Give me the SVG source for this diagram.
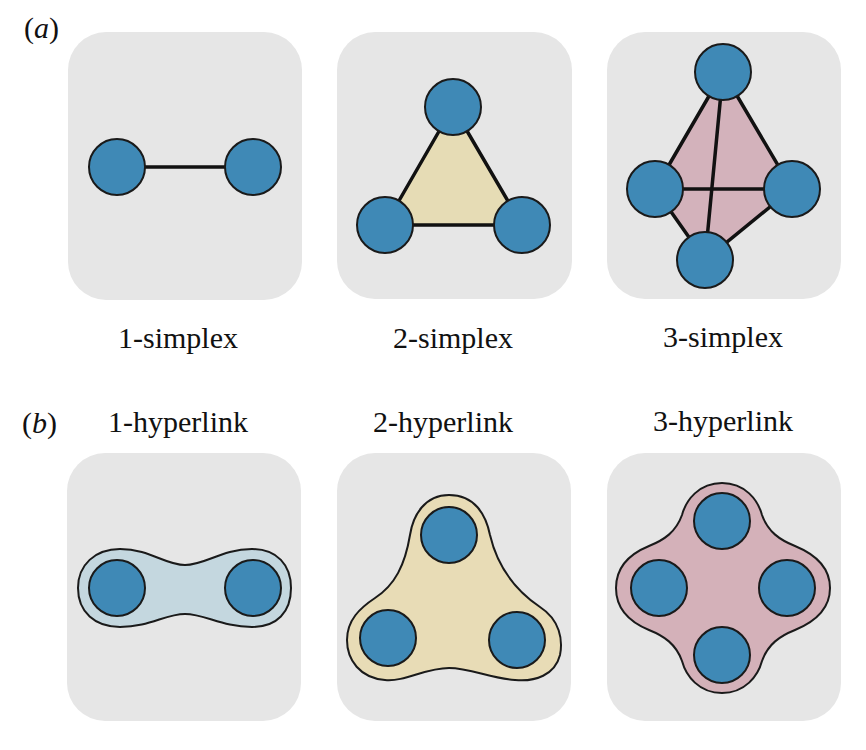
<svg xmlns="http://www.w3.org/2000/svg" width="866" height="750" viewBox="0 0 866 750">
<style>
.panel{fill:#e6e6e6}
.node{fill:#3f89b6;stroke:#1a1a1a;stroke-width:2}
.edge{stroke:#111;stroke-width:3.5;stroke-linecap:round}
.blob{stroke:#1a1a1a;stroke-width:2}
text{font-family:"Liberation Serif","Times New Roman",serif;font-size:30px;fill:#111}
.lab{text-anchor:middle}
</style>
<rect width="866" height="750" fill="#ffffff"/>
<text x="24" y="38"><tspan>(</tspan><tspan font-style="italic">a</tspan><tspan>)</tspan></text>
<text x="22" y="433"><tspan>(</tspan><tspan font-style="italic">b</tspan><tspan>)</tspan></text>

<g id="panels">
<rect class="panel" x="68" y="32" width="234" height="268" rx="38"/>
<rect class="panel" x="337" y="32" width="235" height="267" rx="38"/>
<rect class="panel" x="607" y="32" width="234" height="267" rx="38"/>
<rect class="panel" x="67" y="453" width="234" height="268" rx="38"/>
<rect class="panel" x="337" y="453" width="234" height="268" rx="38"/>
<rect class="panel" x="607" y="453" width="234" height="268" rx="38"/>
</g>

<g id="faces">
<polygon points="453,107 522,225 385,225" fill="#e6dcb5"/>
<polygon points="723,72 792,189 705,260 655,189" fill="#d3b2bb"/>
</g>

<g id="connectors">
<line class="edge" x1="117" y1="167" x2="253" y2="167"/>
<line class="edge" x1="453" y1="107" x2="522" y2="225"/>
<line class="edge" x1="453" y1="107" x2="385" y2="225"/>
<line class="edge" x1="385" y1="225" x2="522" y2="225"/>
<line class="edge" x1="723" y1="72" x2="655" y2="189"/>
<line class="edge" x1="723" y1="72" x2="792" y2="189"/>
<line class="edge" x1="723" y1="72" x2="705" y2="260"/>
<line class="edge" x1="655" y1="189" x2="792" y2="189"/>
<line class="edge" x1="655" y1="189" x2="705" y2="260"/>
<line class="edge" x1="792" y1="189" x2="705" y2="260"/>
</g>

<g id="hyperlink-1">
<path class="blob" fill="#c4d7df" d="M 78 588 C 78 565, 95 549, 120 549 C 150 549, 165 565, 185 565 C 205 565, 222 549, 252 549 C 277 549, 291 565, 291 588 C 291 612, 277 627, 252 627 C 222 627, 205 614, 185 614 C 165 614, 150 627, 120 627 C 95 627, 78 612, 78 588 Z"/>
</g>
<g id="hyperlink-2">
<path class="blob" fill="#e8dcb6" d="M 449 495 C 475 495, 486 515, 490 535 C 497 565, 515 590, 540 607 C 560 620, 563 640, 560 655 C 555 675, 535 682, 515 680 C 490 678, 470 668, 449 668 C 425 668, 405 682, 385 680 C 360 678, 347 660, 347 640 C 347 620, 360 608, 375 598 C 395 585, 405 565, 410 535 C 413 515, 425 495, 449 495 Z"/>
</g>
<g id="hyperlink-3">
<path class="blob" fill="#d4b1b9" d="M 722 483 C 745 483, 758 500, 762 515 C 768 532, 780 540, 795 546 C 812 553, 830 565, 830 588 C 830 611, 812 623, 795 630 C 780 636, 768 644, 762 661 C 758 676, 745 693, 722 693 C 699 693, 686 676, 682 661 C 676 644, 664 636, 649 630 C 632 623, 616 611, 616 588 C 616 565, 632 553, 649 546 C 664 540, 676 532, 682 515 C 686 500, 699 483, 722 483 Z"/>
</g>

<g id="nodes">
<circle id="a1-n1" class="node" cx="117" cy="167" r="28"/>
<circle id="a1-n2" class="node" cx="253" cy="167" r="28"/>
<circle id="a2-n1" class="node" cx="453" cy="107" r="28"/>
<circle id="a2-n2" class="node" cx="385" cy="225" r="28"/>
<circle id="a2-n3" class="node" cx="522" cy="225" r="28"/>
<circle id="a3-n1" class="node" cx="723" cy="72" r="28"/>
<circle id="a3-n2" class="node" cx="655" cy="189" r="28"/>
<circle id="a3-n3" class="node" cx="792" cy="189" r="28"/>
<circle id="a3-n4" class="node" cx="705" cy="260" r="28"/>
<circle id="b1-n1" class="node" cx="117" cy="588" r="28"/>
<circle id="b1-n2" class="node" cx="253" cy="588" r="28"/>
<circle id="b2-n1" class="node" cx="449" cy="535" r="28"/>
<circle id="b2-n2" class="node" cx="388" cy="638" r="28"/>
<circle id="b2-n3" class="node" cx="517" cy="640" r="28"/>
<circle id="b3-n1" class="node" cx="722" cy="521" r="28"/>
<circle id="b3-n2" class="node" cx="659" cy="588" r="28"/>
<circle id="b3-n3" class="node" cx="787" cy="588" r="28"/>
<circle id="b3-n4" class="node" cx="722" cy="655" r="28"/>
</g>

<g id="labels">
<text class="lab" x="178" y="348">1-simplex</text>
<text class="lab" x="453" y="348">2-simplex</text>
<text class="lab" x="723" y="347">3-simplex</text>
<text class="lab" x="178" y="432">1-hyperlink</text>
<text class="lab" x="443" y="432">2-hyperlink</text>
<text class="lab" x="723" y="431">3-hyperlink</text>
</g>
</svg>
